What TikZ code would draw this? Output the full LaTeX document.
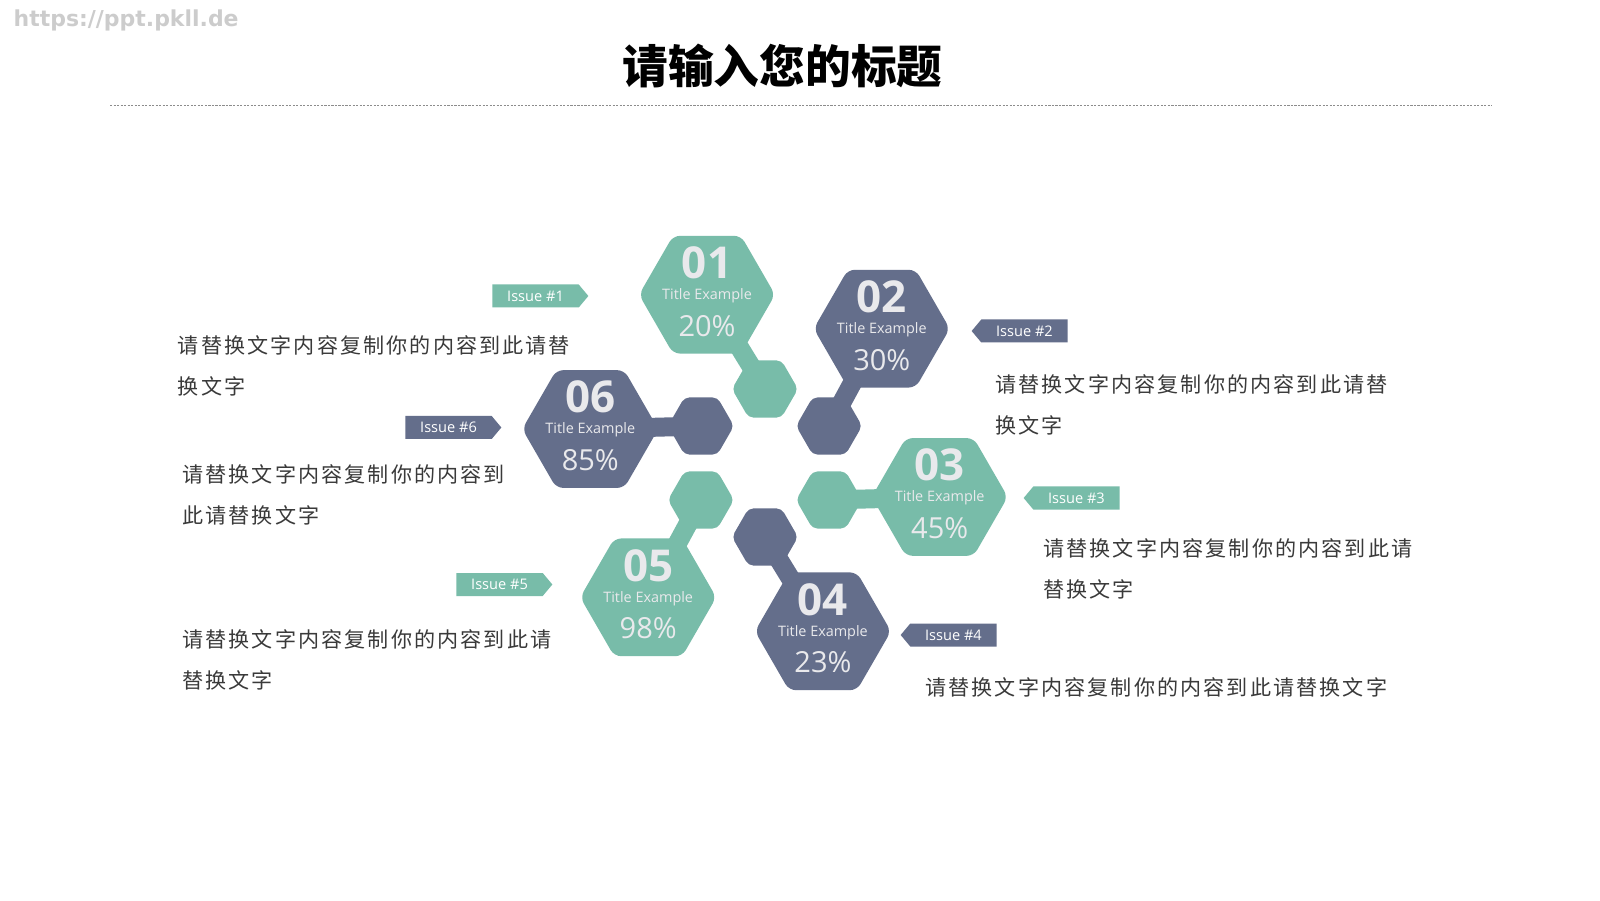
\documentclass[tikz,border=0pt]{standalone}
\usepackage{fontspec}
\setmainfont{Open Sans}
\newfontfamily\cjk[LetterSpace=10]{Noto Sans CJK SC}
\newfontfamily\cjktitle{Noto Sans CJK SC}
\newfontfamily\markfont{DejaVu Sans}
\usetikzlibrary{calc,shapes.geometric,shapes.symbols}

\definecolor{hexgreen}{HTML}{78BCA9}
\definecolor{hexblue}{HTML}{646E8B}
\definecolor{hexfg}{HTML}{E9E9EC}
\definecolor{bodytext}{HTML}{3A3A3A}

\tikzset{
  hexbig/.style={regular polygon,regular polygon sides=6,minimum size=2.72cm,
    inner sep=0pt,outer sep=0pt,rounded corners=0.14cm},
  hexsmall/.style={hexbig,minimum size=1.32cm,rounded corners=0.1cm},
  numtext/.style={text=hexfg,inner sep=0pt,font=\bfseries\fontsize{25}{27}\selectfont},
  subtext/.style={text=hexfg,inner sep=0pt,font=\fontsize{8.2}{9}\selectfont},
  pcttext/.style={text=hexfg,inner sep=0pt,font=\fontsize{16.5}{18}\selectfont},
  issuetag/.style={signal,signal pointer angle=100,minimum width=1.92cm,
    minimum height=0.46cm,inner sep=1pt,text=white,font=\fontsize{8.3}{9}\selectfont},
  bodybox/.style={anchor=west,align=left,text=bodytext,
    font=\cjk\fontsize{12}{23.3}\selectfont,inner sep=0pt}
}

\begin{document}
\begin{tikzpicture}
  \useasboundingbox[fill=white] (0,0) rectangle (32,18);

  % header
  \node[anchor=west,text=black!20,font=\markfont\bfseries\fontsize{12.5}{13}\selectfont]
    (mark) at (0.15,17.6) {https://ppt.pkll.de};
  \node[font=\cjktitle\bfseries\fontsize{26}{30}\selectfont] (title) at (15.65,16.68) {请输入您的标题};
  \draw[black!45,line width=0.4pt,dash pattern=on 1.2pt off 0.8pt] (2.2,15.9) -- (29.84,15.9);

  % hexagon pairs round the middle (big one carries the text)
  \coordinate (C) at (15.3,8.74);
  \foreach \n/\col/\pct in {1/hexgreen/20,2/hexblue/30,3/hexgreen/45,4/hexblue/23,5/hexgreen/98,6/hexblue/85}{
    \coordinate (b\n) at ($(C)+({169-60*\n}:3.56)$);
    \coordinate (s\n) at ($(C)+({150-60*\n}:1.48)$);
    \draw[\col,line width=0.38cm] (b\n) -- (s\n);
    \node[hexbig,fill=\col] (big\n) at (b\n) {};
    \node[hexsmall,fill=\col] (small\n) at (s\n) {};
    \node[numtext] (num\n) at ([yshift=0.64cm]b\n) {0\n};
    \node[subtext] (sub\n) at ([yshift=-0.02cm]b\n) {Title Example};
    \node[pcttext] (pct\n) at ([yshift=-0.62cm]b\n) {\pct\%};
  }

  % issue tags
  \node[issuetag,fill=hexgreen,anchor=west] (tag1) at (9.84,12.08) {Issue \#1};
  \node[issuetag,fill=hexblue,anchor=west] (tag6) at (8.10,9.45) {Issue \#6};
  \node[issuetag,fill=hexgreen,anchor=west] (tag5) at (9.12,6.31) {Issue \#5};
  \node[issuetag,signal to=west,fill=hexblue,anchor=east] (tag2) at (21.36,11.38) {Issue \#2};
  \node[issuetag,signal to=west,fill=hexgreen,anchor=east] (tag3) at (22.40,8.04) {Issue \#3};
  \node[issuetag,signal to=west,fill=hexblue,anchor=east] (tag4) at (19.94,5.30) {Issue \#4};

  % description texts
  \node[bodybox] (desc1) at (3.55,10.69) {请替换文字内容复制你的内容到此请替\\换文字};
  \node[bodybox] (desc2) at (19.90,9.91) {请替换文字内容复制你的内容到此请替\\换文字};
  \node[bodybox] (desc6) at (3.64,8.10) {请替换文字内容复制你的内容到\\此请替换文字};
  \node[bodybox] (desc3) at (20.86,6.63) {请替换文字内容复制你的内容到此请\\替换文字};
  \node[bodybox] (desc5) at (3.64,4.81) {请替换文字内容复制你的内容到此请\\替换文字};
  \node[bodybox] (desc4) at (18.50,4.26) {请替换文字内容复制你的内容到此请替换文字};
\end{tikzpicture}
\end{document}
